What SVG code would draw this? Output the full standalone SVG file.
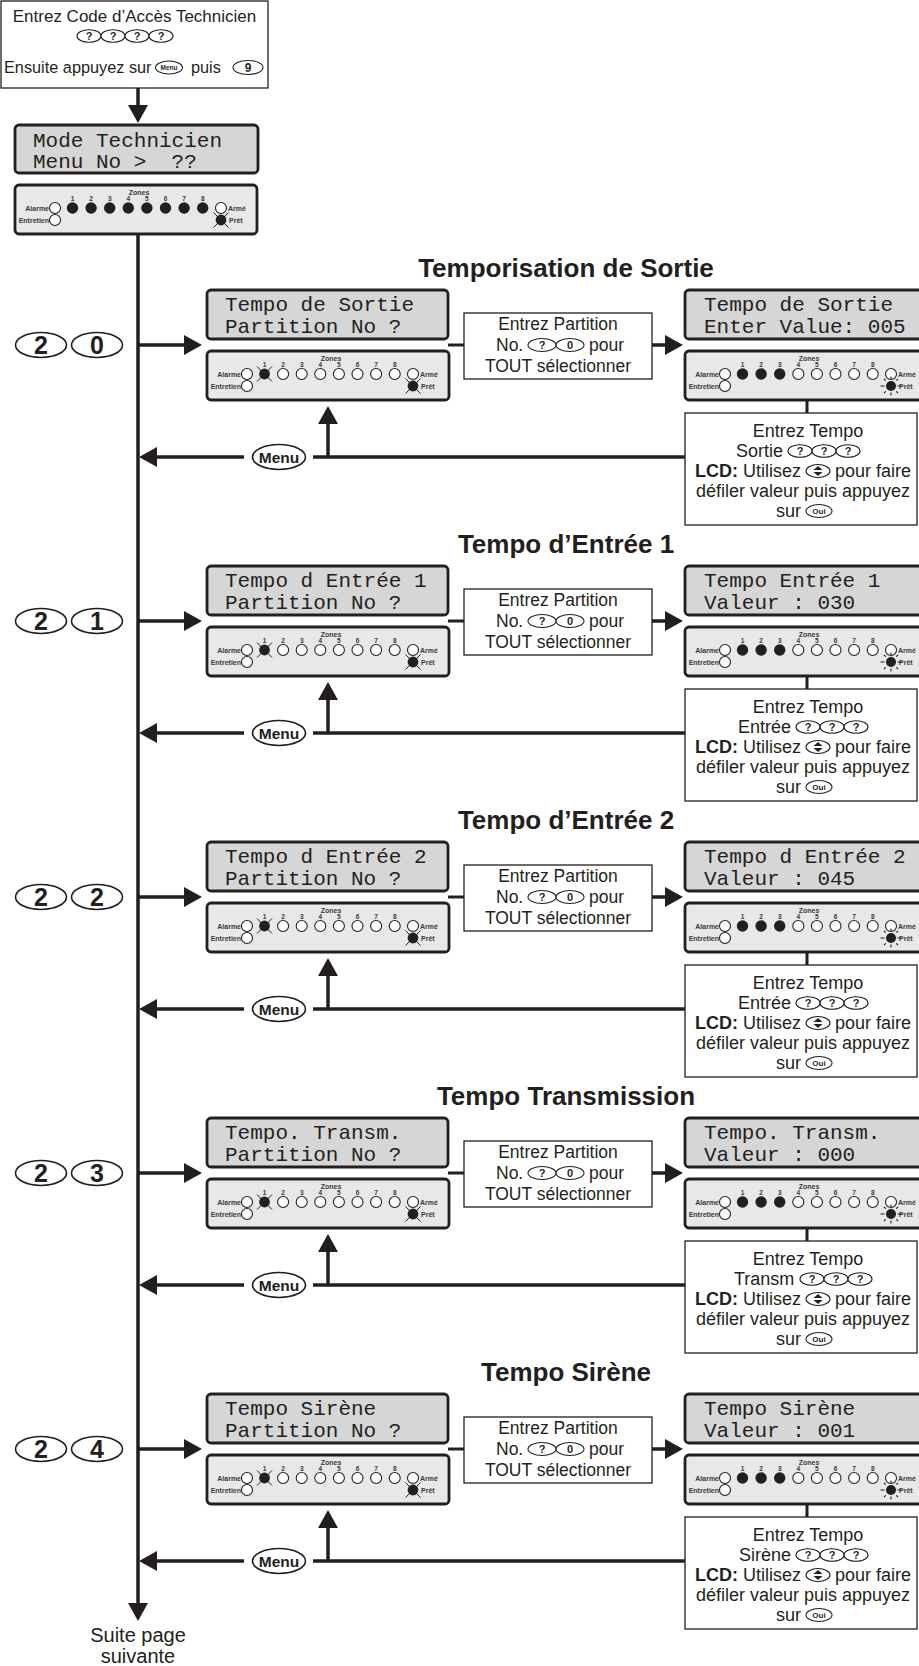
<svg xmlns="http://www.w3.org/2000/svg" xmlns:xlink="http://www.w3.org/1999/xlink" width="919" height="1666" viewBox="0 0 919 1666">
<style>
.box{fill:#fff;stroke:#231f20;stroke-width:1.3}
.lcd{fill:#d6d6d6;stroke:#231f20;stroke-width:2.8}
.zp{fill:#e8e8e8;stroke:#231f20;stroke-width:2.8}
.lcdt{font-family:"Liberation Mono","DejaVu Sans Mono",monospace;font-size:21px;fill:#231f20;white-space:pre}
.t{font-family:"Liberation Sans",Arial,sans-serif;font-size:17.5px;fill:#231f20}
.t18{font-family:"Liberation Sans",Arial,sans-serif;font-size:18px;fill:#231f20}
.t17{font-family:"Liberation Sans",Arial,sans-serif;font-size:17px;fill:#231f20}
.t16{font-family:"Liberation Sans",Arial,sans-serif;font-size:16.3px;fill:#231f20}
.mid{text-anchor:middle}
.title{font-family:"Liberation Sans",Arial,sans-serif;font-size:26px;font-weight:bold;fill:#231f20;text-anchor:middle}
.zl{font-family:"Liberation Sans",Arial,sans-serif;font-size:7px;font-weight:bold;fill:#3a3a3a}
.zn{font-size:6.5px;text-anchor:middle}
.key{fill:#fff;stroke:#231f20;stroke-width:1.1}
.bigkey{fill:#fff;stroke:#231f20;stroke-width:1.6}
.kt{font-family:"Liberation Sans",Arial,sans-serif;font-weight:bold;fill:#231f20;text-anchor:middle}
.ln{fill:none;stroke:#231f20;stroke-width:3.5}
.lnt{fill:none;stroke:#231f20;stroke-width:3}
.bottom{font-family:"Liberation Sans",Arial,sans-serif;font-size:20px;fill:#231f20;text-anchor:middle}
</style>
<defs>
<marker id="ah" markerUnits="userSpaceOnUse" viewBox="0 0 18 20" markerWidth="18" markerHeight="20" refX="8" refY="10" orient="auto">
<path d="M0,0 L18,10 L0,20 Z" fill="#231f20"/>
</marker>
<g id="led-off"><circle r="5.5" fill="#fff" stroke="#231f20" stroke-width="1.1"/></g>
<g id="led-on"><circle r="5.7" fill="#231f20"/></g>
<g id="led-flash"><circle r="5.4" fill="#231f20"/><path d="M-7.5,-7.5 L7.5,7.5 M7.5,-7.5 L-7.5,7.5" stroke="#231f20" stroke-width="1"/></g>
<g id="led-sun"><circle r="5" fill="#231f20"/><path d="M-10.5,0 H-6.5 M6.5,0 H10.5 M0,-9.5 V-6.5 M0,6.5 V9.5 M-7,-7 L-5.3,-5.3 M7,-7 L5.3,-5.3 M-7,7 L-5.3,5.3 M7,7 L5.3,5.3" stroke="#231f20" stroke-width="1.1"/></g>
<g id="zp">
<rect class="zp" x="0" y="0" width="242" height="49" rx="4"/>
<text class="zl" x="124" y="9.5" text-anchor="middle">Zones</text>
<text class="zl zn" x="57.5" y="16">1</text>
<text class="zl zn" x="76.1" y="16">2</text>
<text class="zl zn" x="94.7" y="16">3</text>
<text class="zl zn" x="113.3" y="16">4</text>
<text class="zl zn" x="131.9" y="16">5</text>
<text class="zl zn" x="150.5" y="16">6</text>
<text class="zl zn" x="169.1" y="16">7</text>
<text class="zl zn" x="187.7" y="16">8</text>
<text class="zl" x="34" y="25.5" text-anchor="end">Alarme</text>
<text class="zl" x="213" y="25.5">Armé</text>
<text class="zl" x="34" y="37.5" text-anchor="end">Entretien</text>
<text class="zl" x="214" y="37.5">Prêt</text>
<use href="#led-off" x="40" y="23"/>
<use href="#led-off" x="206" y="23"/>
<use href="#led-off" x="40" y="35"/>
</g>
<g id="leds-mode">
<use href="#led-on" x="57.5" y="23"/><use href="#led-on" x="76.1" y="23"/><use href="#led-on" x="94.7" y="23"/><use href="#led-on" x="113.3" y="23"/>
<use href="#led-on" x="131.9" y="23"/><use href="#led-on" x="150.5" y="23"/><use href="#led-on" x="169.1" y="23"/><use href="#led-on" x="187.7" y="23"/>
<use href="#led-flash" x="206" y="35"/>
</g>
<g id="leds-part">
<use href="#led-flash" x="57.5" y="23"/><use href="#led-off" x="76.1" y="23"/><use href="#led-off" x="94.7" y="23"/><use href="#led-off" x="113.3" y="23"/>
<use href="#led-off" x="131.9" y="23"/><use href="#led-off" x="150.5" y="23"/><use href="#led-off" x="169.1" y="23"/><use href="#led-off" x="187.7" y="23"/>
<use href="#led-flash" x="206" y="35"/>
</g>
<g id="leds-val">
<use href="#led-on" x="57.5" y="23"/><use href="#led-on" x="76.1" y="23"/><use href="#led-on" x="94.7" y="23"/><use href="#led-off" x="113.3" y="23"/>
<use href="#led-off" x="131.9" y="23"/><use href="#led-off" x="150.5" y="23"/><use href="#led-off" x="169.1" y="23"/><use href="#led-off" x="187.7" y="23"/>
<use href="#led-sun" x="206" y="35"/>
</g>
<g id="scroll-icon"><ellipse class="key" rx="12" ry="6.5"/><path d="M-4.5,-1 L0,-5 L4.5,-1 Z M-4.5,1 L0,5 L4.5,1 Z" fill="#231f20"/></g>
</defs>

<g id="connectors">
<path class="ln" d="M138,88 V113" marker-end="url(#ah)"/>
<path class="ln" d="M138,235 V1611" marker-end="url(#ah)"/>
<path class="ln" d="M138,345 H192" marker-end="url(#ah)"/>
<path class="lnt" d="M448,345 H464"/>
<path class="ln" d="M652,345 H673" marker-end="url(#ah)"/>
<path class="lnt" d="M807,400 V413"/>
<path class="ln" d="M685,457 H313"/>
<path class="ln" d="M244,457 H149" marker-end="url(#ah)"/>
<path class="ln" d="M328,457 V416" marker-end="url(#ah)"/>
<path class="ln" d="M138,621 H192" marker-end="url(#ah)"/>
<path class="lnt" d="M448,621 H464"/>
<path class="ln" d="M652,621 H673" marker-end="url(#ah)"/>
<path class="lnt" d="M807,676 V689"/>
<path class="ln" d="M685,733 H313"/>
<path class="ln" d="M244,733 H149" marker-end="url(#ah)"/>
<path class="ln" d="M328,733 V692" marker-end="url(#ah)"/>
<path class="ln" d="M138,897 H192" marker-end="url(#ah)"/>
<path class="lnt" d="M448,897 H464"/>
<path class="ln" d="M652,897 H673" marker-end="url(#ah)"/>
<path class="lnt" d="M807,952 V965"/>
<path class="ln" d="M685,1009 H313"/>
<path class="ln" d="M244,1009 H149" marker-end="url(#ah)"/>
<path class="ln" d="M328,1009 V968" marker-end="url(#ah)"/>
<path class="ln" d="M138,1173 H192" marker-end="url(#ah)"/>
<path class="lnt" d="M448,1173 H464"/>
<path class="ln" d="M652,1173 H673" marker-end="url(#ah)"/>
<path class="lnt" d="M807,1228 V1241"/>
<path class="ln" d="M685,1285 H313"/>
<path class="ln" d="M244,1285 H149" marker-end="url(#ah)"/>
<path class="ln" d="M328,1285 V1244" marker-end="url(#ah)"/>
<path class="ln" d="M138,1449 H192" marker-end="url(#ah)"/>
<path class="lnt" d="M448,1449 H464"/>
<path class="ln" d="M652,1449 H673" marker-end="url(#ah)"/>
<path class="lnt" d="M807,1504 V1517"/>
<path class="ln" d="M685,1561 H313"/>
<path class="ln" d="M244,1561 H149" marker-end="url(#ah)"/>
<path class="ln" d="M328,1561 V1520" marker-end="url(#ah)"/>
</g>

<g id="start">
<rect class="box" x="1" y="1" width="267" height="87"/>
<text class="t17 mid" x="134.5" y="22">Entrez Code d’Accès Technicien</text>
<ellipse class="key" cx="89" cy="36" rx="12" ry="6.3"/><text class="kt" x="89" y="40" font-size="11">?</text>
<ellipse class="key" cx="113" cy="36" rx="12" ry="6.3"/><text class="kt" x="113" y="40" font-size="11">?</text>
<ellipse class="key" cx="137" cy="36" rx="12" ry="6.3"/><text class="kt" x="137" y="40" font-size="11">?</text>
<ellipse class="key" cx="161" cy="36" rx="12" ry="6.3"/><text class="kt" x="161" y="40" font-size="11">?</text>
<text class="t16" x="4" y="73">Ensuite appuyez sur</text>
<ellipse class="key" cx="169" cy="67.5" rx="13.5" ry="6.5"/><text class="kt" x="169" y="70" font-size="6.5">Menu</text>
<text class="t16" x="191" y="73">puis</text>
<ellipse class="key" cx="248" cy="67.5" rx="15" ry="7"/><text class="kt" x="248" y="72" font-size="12">9</text>
</g>

<g id="mode-lcd">
<rect class="lcd" x="15" y="125" width="243" height="48" rx="4"/>
<text class="lcdt" x="33" y="147">Mode Technicien</text>
<text class="lcdt" x="33" y="168" xml:space="preserve">Menu No &gt;  ??</text>
</g>
<g id="mode-panel" transform="translate(15,185)"><use href="#zp"/><use href="#leds-mode"/></g>

<!-- Section 1 -->
<g id="section-20">
<g id="title-20"><text class="title" x="566" y="277">Temporisation de Sortie</text></g>
<g id="key-20"><ellipse class="bigkey" cx="41" cy="345" rx="25.5" ry="12.5"/><text class="kt" x="41" y="354" font-size="25">2</text><ellipse class="bigkey" cx="97" cy="345" rx="25.5" ry="12.5"/><text class="kt" x="97" y="354" font-size="25">0</text></g>
<g id="lcd-part-20"><rect class="lcd" x="207" y="290" width="241" height="49" rx="4"/><text class="lcdt" x="225" y="311">Tempo de Sortie</text><text class="lcdt" x="225" y="333">Partition No ?</text></g>
<g id="panel-part-20" transform="translate(207,351)"><use href="#zp"/><use href="#leds-part"/></g>
<g id="partition-20"><rect class="box" x="464" y="313" width="188" height="66"/><text class="t mid" x="558" y="330">Entrez Partition</text><text class="t" x="496" y="351">No.</text><ellipse class="key" cx="542" cy="345" rx="14" ry="6.5"/><text class="kt" x="542" y="349" font-size="11">?</text><ellipse class="key" cx="570" cy="345" rx="14" ry="6.5"/><text class="kt" x="570" y="349" font-size="11">0</text><text class="t" x="589" y="351">pour</text><text class="t mid" x="558" y="372">TOUT sélectionner</text></g>
<g id="lcd-val-20"><rect class="lcd" x="685" y="290" width="242" height="49" rx="4"/><text class="lcdt" x="704" y="311">Tempo de Sortie</text><text class="lcdt" x="704" y="333">Enter Value: 005</text></g>
<g id="panel-val-20" transform="translate(685,351)"><use href="#zp"/><use href="#leds-val"/></g>
<g id="tempo-20"><rect class="box" x="685" y="413" width="232" height="112"/><text class="t18 mid" x="808" y="437">Entrez Tempo</text><text class="t18" x="736" y="457">Sortie</text><ellipse class="key" cx="800" cy="451" rx="12" ry="6.3"/><text class="kt" x="800" y="455" font-size="11">?</text><ellipse class="key" cx="824" cy="451" rx="12" ry="6.3"/><text class="kt" x="824" y="455" font-size="11">?</text><ellipse class="key" cx="848" cy="451" rx="12" ry="6.3"/><text class="kt" x="848" y="455" font-size="11">?</text><text class="t18" x="695" y="477"><tspan font-weight="bold">LCD:</tspan> Utilisez</text><use href="#scroll-icon" x="818" y="471"/><text class="t18" x="835" y="477">pour faire</text><text class="t18 mid" x="803" y="497">défiler valeur puis appuyez</text><text class="t18" x="776" y="517">sur</text><ellipse class="key" cx="819" cy="511" rx="13" ry="6.5"/><text class="kt" x="819" y="514" font-size="8">Oui</text></g>
<g id="menu-20"><ellipse class="bigkey" cx="279" cy="457" rx="26.5" ry="12.5"/><text class="kt" x="279" y="462.5" font-size="15.5">Menu</text></g>
</g>

<!-- Section 2 -->
<g id="section-21" transform="translate(0,276)">
<g id="title-21"><text class="title" x="566" y="277">Tempo d’Entrée 1</text></g>
<g id="key-21"><ellipse class="bigkey" cx="41" cy="345" rx="25.5" ry="12.5"/><text class="kt" x="41" y="354" font-size="25">2</text><ellipse class="bigkey" cx="97" cy="345" rx="25.5" ry="12.5"/><text class="kt" x="97" y="354" font-size="25">1</text></g>
<g id="lcd-part-21"><rect class="lcd" x="207" y="290" width="241" height="49" rx="4"/><text class="lcdt" x="225" y="311">Tempo d Entrée 1</text><text class="lcdt" x="225" y="333">Partition No ?</text></g>
<g id="panel-part-21" transform="translate(207,351)"><use href="#zp"/><use href="#leds-part"/></g>
<g id="partition-21"><rect class="box" x="464" y="313" width="188" height="66"/><text class="t mid" x="558" y="330">Entrez Partition</text><text class="t" x="496" y="351">No.</text><ellipse class="key" cx="542" cy="345" rx="14" ry="6.5"/><text class="kt" x="542" y="349" font-size="11">?</text><ellipse class="key" cx="570" cy="345" rx="14" ry="6.5"/><text class="kt" x="570" y="349" font-size="11">0</text><text class="t" x="589" y="351">pour</text><text class="t mid" x="558" y="372">TOUT sélectionner</text></g>
<g id="lcd-val-21"><rect class="lcd" x="685" y="290" width="242" height="49" rx="4"/><text class="lcdt" x="704" y="311">Tempo Entrée 1</text><text class="lcdt" x="704" y="333">Valeur : 030</text></g>
<g id="panel-val-21" transform="translate(685,351)"><use href="#zp"/><use href="#leds-val"/></g>
<g id="tempo-21"><rect class="box" x="685" y="413" width="232" height="112"/><text class="t18 mid" x="808" y="437">Entrez Tempo</text><text class="t18" x="738" y="457">Entrée</text><ellipse class="key" cx="808" cy="451" rx="12" ry="6.3"/><text class="kt" x="808" y="455" font-size="11">?</text><ellipse class="key" cx="832" cy="451" rx="12" ry="6.3"/><text class="kt" x="832" y="455" font-size="11">?</text><ellipse class="key" cx="856" cy="451" rx="12" ry="6.3"/><text class="kt" x="856" y="455" font-size="11">?</text><text class="t18" x="695" y="477"><tspan font-weight="bold">LCD:</tspan> Utilisez</text><use href="#scroll-icon" x="818" y="471"/><text class="t18" x="835" y="477">pour faire</text><text class="t18 mid" x="803" y="497">défiler valeur puis appuyez</text><text class="t18" x="776" y="517">sur</text><ellipse class="key" cx="819" cy="511" rx="13" ry="6.5"/><text class="kt" x="819" y="514" font-size="8">Oui</text></g>
<g id="menu-21"><ellipse class="bigkey" cx="279" cy="457" rx="26.5" ry="12.5"/><text class="kt" x="279" y="462.5" font-size="15.5">Menu</text></g>
</g>

<!-- Section 3 -->
<g id="section-22" transform="translate(0,552)">
<g id="title-22"><text class="title" x="566" y="277">Tempo d’Entrée 2</text></g>
<g id="key-22"><ellipse class="bigkey" cx="41" cy="345" rx="25.5" ry="12.5"/><text class="kt" x="41" y="354" font-size="25">2</text><ellipse class="bigkey" cx="97" cy="345" rx="25.5" ry="12.5"/><text class="kt" x="97" y="354" font-size="25">2</text></g>
<g id="lcd-part-22"><rect class="lcd" x="207" y="290" width="241" height="49" rx="4"/><text class="lcdt" x="225" y="311">Tempo d Entrée 2</text><text class="lcdt" x="225" y="333">Partition No ?</text></g>
<g id="panel-part-22" transform="translate(207,351)"><use href="#zp"/><use href="#leds-part"/></g>
<g id="partition-22"><rect class="box" x="464" y="313" width="188" height="66"/><text class="t mid" x="558" y="330">Entrez Partition</text><text class="t" x="496" y="351">No.</text><ellipse class="key" cx="542" cy="345" rx="14" ry="6.5"/><text class="kt" x="542" y="349" font-size="11">?</text><ellipse class="key" cx="570" cy="345" rx="14" ry="6.5"/><text class="kt" x="570" y="349" font-size="11">0</text><text class="t" x="589" y="351">pour</text><text class="t mid" x="558" y="372">TOUT sélectionner</text></g>
<g id="lcd-val-22"><rect class="lcd" x="685" y="290" width="242" height="49" rx="4"/><text class="lcdt" x="704" y="311">Tempo d Entrée 2</text><text class="lcdt" x="704" y="333">Valeur : 045</text></g>
<g id="panel-val-22" transform="translate(685,351)"><use href="#zp"/><use href="#leds-val"/></g>
<g id="tempo-22"><rect class="box" x="685" y="413" width="232" height="112"/><text class="t18 mid" x="808" y="437">Entrez Tempo</text><text class="t18" x="738" y="457">Entrée</text><ellipse class="key" cx="808" cy="451" rx="12" ry="6.3"/><text class="kt" x="808" y="455" font-size="11">?</text><ellipse class="key" cx="832" cy="451" rx="12" ry="6.3"/><text class="kt" x="832" y="455" font-size="11">?</text><ellipse class="key" cx="856" cy="451" rx="12" ry="6.3"/><text class="kt" x="856" y="455" font-size="11">?</text><text class="t18" x="695" y="477"><tspan font-weight="bold">LCD:</tspan> Utilisez</text><use href="#scroll-icon" x="818" y="471"/><text class="t18" x="835" y="477">pour faire</text><text class="t18 mid" x="803" y="497">défiler valeur puis appuyez</text><text class="t18" x="776" y="517">sur</text><ellipse class="key" cx="819" cy="511" rx="13" ry="6.5"/><text class="kt" x="819" y="514" font-size="8">Oui</text></g>
<g id="menu-22"><ellipse class="bigkey" cx="279" cy="457" rx="26.5" ry="12.5"/><text class="kt" x="279" y="462.5" font-size="15.5">Menu</text></g>
</g>

<!-- Section 4 -->
<g id="section-23" transform="translate(0,828)">
<g id="title-23"><text class="title" x="566" y="277">Tempo Transmission</text></g>
<g id="key-23"><ellipse class="bigkey" cx="41" cy="345" rx="25.5" ry="12.5"/><text class="kt" x="41" y="354" font-size="25">2</text><ellipse class="bigkey" cx="97" cy="345" rx="25.5" ry="12.5"/><text class="kt" x="97" y="354" font-size="25">3</text></g>
<g id="lcd-part-23"><rect class="lcd" x="207" y="290" width="241" height="49" rx="4"/><text class="lcdt" x="225" y="311">Tempo. Transm.</text><text class="lcdt" x="225" y="333">Partition No ?</text></g>
<g id="panel-part-23" transform="translate(207,351)"><use href="#zp"/><use href="#leds-part"/></g>
<g id="partition-23"><rect class="box" x="464" y="313" width="188" height="66"/><text class="t mid" x="558" y="330">Entrez Partition</text><text class="t" x="496" y="351">No.</text><ellipse class="key" cx="542" cy="345" rx="14" ry="6.5"/><text class="kt" x="542" y="349" font-size="11">?</text><ellipse class="key" cx="570" cy="345" rx="14" ry="6.5"/><text class="kt" x="570" y="349" font-size="11">0</text><text class="t" x="589" y="351">pour</text><text class="t mid" x="558" y="372">TOUT sélectionner</text></g>
<g id="lcd-val-23"><rect class="lcd" x="685" y="290" width="242" height="49" rx="4"/><text class="lcdt" x="704" y="311">Tempo. Transm.</text><text class="lcdt" x="704" y="333">Valeur : 000</text></g>
<g id="panel-val-23" transform="translate(685,351)"><use href="#zp"/><use href="#leds-val"/></g>
<g id="tempo-23"><rect class="box" x="685" y="413" width="232" height="112"/><text class="t18 mid" x="808" y="437">Entrez Tempo</text><text class="t18" x="734" y="457">Transm</text><ellipse class="key" cx="812" cy="451" rx="12" ry="6.3"/><text class="kt" x="812" y="455" font-size="11">?</text><ellipse class="key" cx="836" cy="451" rx="12" ry="6.3"/><text class="kt" x="836" y="455" font-size="11">?</text><ellipse class="key" cx="860" cy="451" rx="12" ry="6.3"/><text class="kt" x="860" y="455" font-size="11">?</text><text class="t18" x="695" y="477"><tspan font-weight="bold">LCD:</tspan> Utilisez</text><use href="#scroll-icon" x="818" y="471"/><text class="t18" x="835" y="477">pour faire</text><text class="t18 mid" x="803" y="497">défiler valeur puis appuyez</text><text class="t18" x="776" y="517">sur</text><ellipse class="key" cx="819" cy="511" rx="13" ry="6.5"/><text class="kt" x="819" y="514" font-size="8">Oui</text></g>
<g id="menu-23"><ellipse class="bigkey" cx="279" cy="457" rx="26.5" ry="12.5"/><text class="kt" x="279" y="462.5" font-size="15.5">Menu</text></g>
</g>

<!-- Section 5 -->
<g id="section-24" transform="translate(0,1104)">
<g id="title-24"><text class="title" x="566" y="277">Tempo Sirène</text></g>
<g id="key-24"><ellipse class="bigkey" cx="41" cy="345" rx="25.5" ry="12.5"/><text class="kt" x="41" y="354" font-size="25">2</text><ellipse class="bigkey" cx="97" cy="345" rx="25.5" ry="12.5"/><text class="kt" x="97" y="354" font-size="25">4</text></g>
<g id="lcd-part-24"><rect class="lcd" x="207" y="290" width="241" height="49" rx="4"/><text class="lcdt" x="225" y="311">Tempo Sirène</text><text class="lcdt" x="225" y="333">Partition No ?</text></g>
<g id="panel-part-24" transform="translate(207,351)"><use href="#zp"/><use href="#leds-part"/></g>
<g id="partition-24"><rect class="box" x="464" y="313" width="188" height="66"/><text class="t mid" x="558" y="330">Entrez Partition</text><text class="t" x="496" y="351">No.</text><ellipse class="key" cx="542" cy="345" rx="14" ry="6.5"/><text class="kt" x="542" y="349" font-size="11">?</text><ellipse class="key" cx="570" cy="345" rx="14" ry="6.5"/><text class="kt" x="570" y="349" font-size="11">0</text><text class="t" x="589" y="351">pour</text><text class="t mid" x="558" y="372">TOUT sélectionner</text></g>
<g id="lcd-val-24"><rect class="lcd" x="685" y="290" width="242" height="49" rx="4"/><text class="lcdt" x="704" y="311">Tempo Sirène</text><text class="lcdt" x="704" y="333">Valeur : 001</text></g>
<g id="panel-val-24" transform="translate(685,351)"><use href="#zp"/><use href="#leds-val"/></g>
<g id="tempo-24"><rect class="box" x="685" y="413" width="232" height="112"/><text class="t18 mid" x="808" y="437">Entrez Tempo</text><text class="t18" x="739" y="457">Sirène</text><ellipse class="key" cx="808" cy="451" rx="12" ry="6.3"/><text class="kt" x="808" y="455" font-size="11">?</text><ellipse class="key" cx="832" cy="451" rx="12" ry="6.3"/><text class="kt" x="832" y="455" font-size="11">?</text><ellipse class="key" cx="856" cy="451" rx="12" ry="6.3"/><text class="kt" x="856" y="455" font-size="11">?</text><text class="t18" x="695" y="477"><tspan font-weight="bold">LCD:</tspan> Utilisez</text><use href="#scroll-icon" x="818" y="471"/><text class="t18" x="835" y="477">pour faire</text><text class="t18 mid" x="803" y="497">défiler valeur puis appuyez</text><text class="t18" x="776" y="517">sur</text><ellipse class="key" cx="819" cy="511" rx="13" ry="6.5"/><text class="kt" x="819" y="514" font-size="8">Oui</text></g>
<g id="menu-24"><ellipse class="bigkey" cx="279" cy="457" rx="26.5" ry="12.5"/><text class="kt" x="279" y="462.5" font-size="15.5">Menu</text></g>
</g>

<g id="end">
<text class="bottom" x="138" y="1642">Suite page</text>
<text class="bottom" x="138" y="1663">suivante</text>
</g>
</svg>
